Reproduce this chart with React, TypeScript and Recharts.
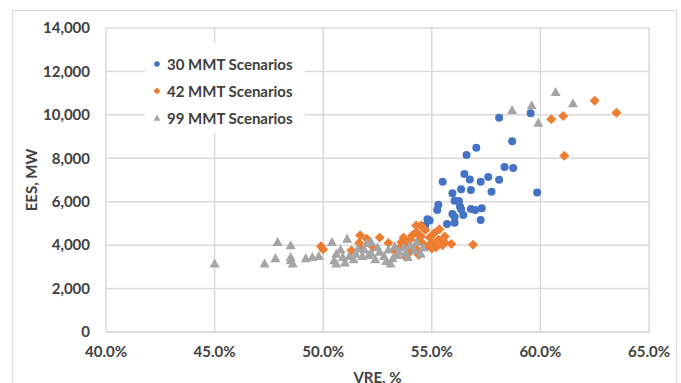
import React from "react";
import {
  CartesianGrid,
  Scatter,
  ScatterChart,
  XAxis,
  YAxis,
} from "recharts";

// 30 MMT scenarios
const vre30 = [
  58.1, 59.55, 58.7, 57.05, 56.6, 58.35, 58.75, 56.5, 56.75, 57.6, 57.25, 58.1,
  55.5, 56.35, 56.8, 57.75, 59.85, 55.95, 56.05, 56.25, 55.3, 55.25, 56.3, 56.35,
  56.8, 57.0, 57.3, 55.95, 56.05, 56.45, 54.8, 54.9, 57.25, 55.7, 56.05, 54.7,
];
const ees30 = [
  9870, 10070, 8780, 8490, 8150, 7600, 7550, 7280, 7020, 7140, 6920, 7010,
  6920, 6570, 6540, 6460, 6430, 6390, 6050, 6030, 5860, 5620, 5770, 5650,
  5660, 5620, 5700, 5430, 5310, 5390, 5190, 5130, 5160, 4970, 5030, 4900,
];

// 42 MMT scenarios
const vre42 = [
  49.9, 50.0, 51.3, 51.7, 51.65, 51.75, 52.0, 52.3, 52.6, 53.0, 53.3, 53.5,
  53.6, 53.7, 53.8, 53.9, 54.0, 54.1, 54.2, 54.3, 54.3, 54.4, 54.5, 54.5,
  54.6, 54.7, 54.8, 54.9, 55.0, 55.1, 55.2, 55.3, 55.35, 55.5, 55.6, 55.6,
  55.9, 54.0, 53.8, 54.4, 55.0, 54.28, 56.9, 60.5, 61.05, 61.1, 62.5, 63.5,
];
const ees42 = [
  3950, 3800, 3750, 4450, 4100, 3850, 4300, 3900, 4350, 4100, 3750, 3850,
  4150, 4350, 4000, 3600, 4250, 4450, 3900, 4600, 3800, 4200, 4900, 4400,
  4050, 4700, 3950, 4350, 4100, 4550, 3900, 4250, 4730, 4000, 4400, 4120,
  4050, 3700, 3450, 3550, 3850, 4900, 4020, 9800, 9950, 8120, 10650, 10100,
];

// 99 MMT scenarios
const vre99 = [
  45.0, 47.3, 47.9, 47.8, 48.5, 48.5, 48.5, 48.6, 49.2, 49.5, 49.8, 50.4,
  50.5, 50.6, 50.6, 50.9, 51.1, 51.2, 51.0, 51.4, 51.5, 51.8, 51.9, 52.0,
  52.1, 52.2, 52.4, 52.6, 52.8, 53.0, 53.1, 53.2, 53.3, 53.5, 53.7, 53.4,
  53.8, 54.0, 54.2, 54.3, 54.5, 52.5, 50.8, 51.6, 53.9, 54.6, 52.9, 52.2,
  58.7, 59.6, 59.9, 60.7, 61.5,
];
const ees99 = [
  3150, 3150, 4150, 3400, 4000, 3450, 3300, 3150, 3400, 3450, 3500, 4150,
  3300, 3150, 3600, 3450, 4300, 3500, 3200, 3350, 3600, 3500, 3800, 4100,
  3550, 3650, 3350, 3700, 3500, 3800, 3150, 3400, 3950, 3700, 3900, 3550,
  3650, 4000, 3750, 4150, 3600, 3900, 3800, 3850, 3450, 3900, 3270, 4160,
  10220, 10440, 9640, 11050, 10530,
];

const xTicks = [40, 45, 50, 55, 60, 65];
const yTicks = [0, 2000, 4000, 6000, 8000, 10000, 12000, 14000];

const BLUE = "#4472C4";
const ORANGE = "#ED7D31";
const GRAY = "#A5A5A5";
const TEXT = "#404040";
const FONT = "Lato, 'Open Sans', sans-serif";

const toPoints = (xs: number[], ys: number[]) =>
  xs.map((x, i) => ({ x, y: ys[i] }));

const Dot = (p: any) => <circle cx={p.cx} cy={p.cy} r={4} fill={BLUE} />;

const Diamond = (p: any) => (
  <path
    d={`M${p.cx},${p.cy - 5}L${p.cx + 5},${p.cy}L${p.cx},${p.cy + 5}L${p.cx - 5},${p.cy}Z`}
    fill={ORANGE}
  />
);

const Tri = (p: any) => (
  <path
    d={`M${p.cx},${p.cy - 5}L${p.cx + 5},${p.cy + 4}L${p.cx - 5},${p.cy + 4}Z`}
    fill={GRAY}
  />
);

const legendItems = [
  { name: "30 MMT Scenarios", Shape: Dot },
  { name: "42 MMT Scenarios", Shape: Diamond },
  { name: "99 MMT Scenarios", Shape: Tri },
];

// legend sits inside the plot on a white box, like the Excel original
function LegendBox() {
  return (
    <div style={{ position: "absolute", left: 145, top: 43, width: 160, height: 90, background: "#fff" }}>
      {legendItems.map((it, i) => (
        <div
          key={it.name}
          style={{
            position: "absolute",
            left: 6,
            top: 11 + i * 27,
            display: "flex",
            alignItems: "center",
            height: 20,
          }}
        >
          <svg width={12} height={12} style={{ marginRight: 4 }}>
            <g transform="translate(6,6) scale(0.7) translate(-6,-6)">
              <it.Shape cx={6} cy={6} />
            </g>
          </svg>
          <span style={{ fontFamily: FONT, fontWeight: 700, fontSize: 15, color: TEXT }}>
            {it.name}
          </span>
        </div>
      ))}
    </div>
  );
}

export default function App() {
  const tick = { fill: TEXT, fontSize: 15, fontWeight: 700, fontFamily: FONT };
  return (
    <div style={{ position: "absolute", left: 0, top: 0, width: 681, height: 383, background: "#fff", overflow: "hidden" }}>
      <div
        style={{
          position: "absolute",
          left: 12,
          top: 10,
          width: 665,
          height: 400,
          border: "1px solid #d9d9d9",
          boxSizing: "border-box",
        }}
      />
      <div style={{ position: "absolute", left: 0, top: 0 }}>
        <ScatterChart width={681} height={383} margin={{ top: 28, right: 32, bottom: 0, left: 0 }}>
          <CartesianGrid stroke="#d9d9d9" strokeWidth={1.5} />
          <XAxis
            type="number"
            dataKey="x"
            domain={[40, 65]}
            ticks={xTicks}
            tickFormatter={(v: number) => `${v.toFixed(1)}%`}
            tick={tick}
            tickLine={false}
            axisLine={{ stroke: "#d9d9d9", strokeWidth: 1.5 }}
            tickMargin={8}
            height={51}
            label={{ value: "VRE, %", position: "insideBottom", offset: 0, fill: TEXT, fontSize: 15, fontWeight: 700, fontFamily: FONT }}
          />
          <YAxis
            type="number"
            dataKey="y"
            domain={[0, 14000]}
            ticks={yTicks}
            tickFormatter={(v: number) => v.toLocaleString("en-US")}
            tick={tick}
            tickLine={false}
            axisLine={false}
            tickMargin={10}
            width={106}
            label={{ value: "EES, MW", angle: -90, position: "insideLeft", offset: 32, fill: TEXT, fontSize: 15, fontWeight: 700, fontFamily: FONT, style: { textAnchor: "middle" } }}
          />
          <Scatter name="30 MMT Scenarios" data={toPoints(vre30, ees30)} shape={Dot} isAnimationActive={false} />
          <Scatter name="42 MMT Scenarios" data={toPoints(vre42, ees42)} shape={Diamond} isAnimationActive={false} />
          <Scatter name="99 MMT Scenarios" data={toPoints(vre99, ees99)} shape={Tri} isAnimationActive={false} />
        </ScatterChart>
      </div>
      <LegendBox />
    </div>
  );
}
